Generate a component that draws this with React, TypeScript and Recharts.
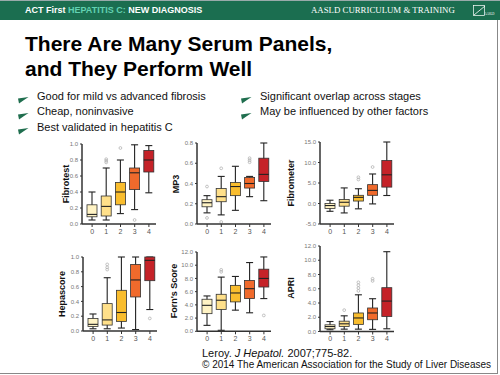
import React from 'react';
import { ComposedChart, Bar, Cell, XAxis, YAxis } from 'recharts';

const stages = ['0', '1', '2', '3', '4'];

// five-number summary per fibrosis stage: [min, q1, median, q3, max]
const fibrotestBoxes = [
  [0.05, 0.09, 0.12, 0.24, 0.4],
  [0.05, 0.1, 0.22, 0.35, 0.7],
  [0.13, 0.24, 0.4, 0.52, 0.8],
  [0.18, 0.43, 0.64, 0.7, 0.99],
  [0.39, 0.65, 0.8, 0.92, 0.98],
];
const fibrotestOutliers = [[], [0.77, 0.79, 0.81], [0.95], [0.05], []];
const fibrotestTicks = [0, 0.2, 0.4, 0.6, 0.8, 1.0];

const mp3Boxes = [
  [0.11, 0.17, 0.21, 0.24, 0.28],
  [0.09, 0.22, 0.27, 0.35, 0.47],
  [0.135, 0.28, 0.37, 0.41, 0.57],
  [0.27, 0.355, 0.4, 0.46, 0.47],
  [0.23, 0.42, 0.49, 0.65, 0.8],
];
const mp3Outliers = [[0.37, 0.06], [0.55, 0.02], [], [0.61, 0.63, 0.65], []];
const mp3Ticks = [0, 0.2, 0.4, 0.6, 0.8];

const fibrometerBoxes = [
  [-1.9, -1.2, -0.5, 0.0, 0.8],
  [-2.3, -0.65, 0.3, 1.0, 3.8],
  [-1.3, 0.6, 1.5, 2.0, 3.6],
  [-0.1, 2.0, 3.2, 4.6, 7.2],
  [1.95, 4.0, 7.0, 10.5, 15.0],
];
const fibrometerOutliers = [[], [], [5.85, 6.4], [8.9], []];
const fibrometerTicks = [-5, 0, 5, 10, 15];

const hepascoreBoxes = [
  [0.03, 0.06, 0.09, 0.17, 0.23],
  [0.03, 0.08, 0.15, 0.37, 0.72],
  [0.04, 0.13, 0.25, 0.55, 1.0],
  [0.02, 0.46, 0.69, 0.9, 1.0],
  [0.29, 0.68, 0.955, 1.0, 1.0],
];
const hepascoreOutliers = [[], [0.83, 0.86, 0.9], [], [], [0.17]];
const hepascoreTicks = [0, 0.2, 0.4, 0.6, 0.8, 1.0];

const fornsBoxes = [
  [0.9, 2.67, 3.93, 4.85, 5.35],
  [0.15, 3.3, 4.7, 5.6, 8.2],
  [3.2, 4.45, 5.8, 6.95, 8.3],
  [2.8, 4.95, 6.45, 7.7, 10.4],
  [4.95, 6.7, 8.0, 9.4, 11.25],
];
const fornsOutliers = [[], [9.0, 9.3], [], [], [2.4]];
const fornsTicks = [0, 2, 4, 6, 8, 10, 12];

const apriBoxes = [
  [0.25, 0.38, 0.7, 0.94, 1.4],
  [0.33, 0.7, 1.08, 1.45, 2.2],
  [0.33, 1.0, 1.9, 2.6, 5.15],
  [0.3, 1.65, 2.6, 3.3, 4.6],
  [0.38, 2.1, 4.27, 6.15, 11.2],
];
const apriOutliers = [[], [3.0], [5.7, 6.1, 6.5, 6.9], [7.1, 7.4], []];
const apriTicks = [0, 2, 4, 6, 8, 10, 12];

const stageColors = ['#fff3c4', '#ffe08a', '#f9bd2e', '#f06a2c', '#c52228'];

const leftBullets = ['Good for mild vs advanced fibrosis', 'Cheap, noninvasive', 'Best validated in hepatitis C'];
const rightBullets = ['Significant overlap across stages', 'May be influenced by other factors'];

const FONT = '"Liberation Sans", Arial, sans-serif';

function BoxShape(props: any) {
  const { x, y, width, height, payload, fill } = props;
  const [lo, q1, med, q3, hi] = payload.stats;
  const top = Math.min(y, y + height);
  const h = Math.abs(height);
  const span = hi - lo;
  const py = (v: number) => (span === 0 ? top : top + (h * (hi - v)) / span);
  const cx = x + width / 2;
  const cap = width * 0.35;
  return (
    <g>
      <line x1={cx} x2={cx} y1={py(hi)} y2={py(lo)} stroke="#222" strokeWidth={1.1} />
      <line x1={cx - cap} x2={cx + cap} y1={py(hi)} y2={py(hi)} stroke="#222" strokeWidth={1.1} />
      <line x1={cx - cap} x2={cx + cap} y1={py(lo)} y2={py(lo)} stroke="#222" strokeWidth={1.1} />
      <rect x={x} y={py(q3)} width={width} height={Math.max(py(q1) - py(q3), 0.5)} fill={fill} stroke="#333" strokeWidth={0.8} />
      <line x1={x} x2={x + width} y1={py(med)} y2={py(med)} stroke="#222" strokeWidth={1.1} />
      {payload.outliers.map((v: number, i: number) => (
        <circle key={i} cx={cx} cy={py(v)} r={1.4} fill="none" stroke="#aaa" strokeWidth={0.7} />
      ))}
    </g>
  );
}

function Panel({ title, boxes, outliers, ticks, axisX, topY, bottomY, labelX }: any) {
  const rows = stages.map((s, i) => ({
    stage: s,
    range: [boxes[i][0], boxes[i][4]],
    stats: boxes[i],
    outliers: outliers[i],
  }));
  const mTop = 6;
  const axisW = 30;
  const plotW = 74;
  const xH = 20;
  const plotH = bottomY - topY;
  return (
    <>
      <div style={{ position: 'absolute', left: axisX - axisW, top: topY - mTop }}>
        <ComposedChart
          width={axisW + plotW + 6}
          height={plotH + mTop + xH}
          data={rows}
          margin={{ top: mTop, right: 6, bottom: 0, left: 0 }}
          barCategoryGap={2}
        >
          <XAxis
            dataKey="stage"
            interval={0}
            height={xH}
            padding={{ left: 3, right: 0 }}
            tick={{ fontSize: 7, fill: '#555', fontFamily: FONT }}
            tickSize={3}
            tickMargin={2}
            tickLine={{ stroke: '#333' }}
            axisLine={{ stroke: '#333', strokeWidth: 1.5 }}
          />
          <YAxis
            type="number"
            width={axisW}
            domain={[ticks[0], ticks[ticks.length - 1]]}
            ticks={ticks}
            interval={0}
            tickFormatter={(v: number) => v.toFixed(1)}
            tick={{ fontSize: 6, fill: '#777', fontFamily: FONT }}
            tickSize={2}
            tickMargin={2}
            tickLine={{ stroke: '#333' }}
            axisLine={{ stroke: '#333', strokeWidth: 1.5 }}
          />
          <Bar dataKey="range" shape={<BoxShape />} isAnimationActive={false}>
            {rows.map((r, i) => (
              <Cell key={r.stage} fill={stageColors[i]} />
            ))}
          </Bar>
        </ComposedChart>
      </div>
      <div style={{ position: 'absolute', left: labelX, top: (topY + bottomY) / 2, width: 0, height: 0 }}>
        <div
          style={{
            position: 'absolute',
            left: 0,
            top: 0,
            transform: 'translate(-50%, -50%) rotate(-90deg)',
            whiteSpace: 'nowrap',
            fontFamily: FONT,
            fontWeight: 'bold',
            fontSize: 9,
            color: '#111',
          }}
        >
          {title}
        </div>
      </div>
    </>
  );
}

function Flag({ left, top }: { left: number; top: number }) {
  return (
    <svg style={{ position: 'absolute', left, top }} width={11} height={7}>
      <polygon points="0,1.5 10.5,0 6,3 1,6.5" fill="#1f6e4e" />
    </svg>
  );
}

export default function App() {
  const text = { position: 'absolute' as const, fontFamily: FONT, whiteSpace: 'nowrap' as const };
  return (
    <div style={{ position: 'absolute', left: 0, top: 0, width: 500, height: 375, background: '#fff', overflow: 'hidden' }}>
      <div style={{ position: 'absolute', left: 0, top: 0, width: 500, height: 1, background: '#9aa' }} />
      <div style={{ position: 'absolute', left: 0, top: 1, width: 500, height: 19, background: '#1b6e50' }} />
      <div style={{ ...text, left: 25, top: 4.5, fontSize: 9, fontWeight: 'bold', color: '#fff' }}>
        ACT First <span style={{ color: '#62d2b2' }}>HEPATITIS C:</span> NEW DIAGNOSIS
      </div>
      <div style={{ ...text, left: 311, top: 4.5, fontSize: 8.8, fontFamily: '"Liberation Serif", "DejaVu Serif", serif', color: '#fff' }}>
        AASLD CURRICULUM &amp; TRAINING
      </div>
      <svg style={{ position: 'absolute', left: 473, top: 5 }} width={23} height={12}>
        <rect x={0.5} y={0.5} width={11} height={10} fill="none" stroke="#fff" strokeWidth={0.7} />
        <line x1={1} y1={10} x2={12} y2={1} stroke="#fff" strokeWidth={0.8} />
        <text x={11.5} y={10} fontSize={3} fill="#fff" fontFamily="serif">AASLD</text>
      </svg>

      <div style={{ ...text, left: 25, top: 30.5, fontSize: 21, fontWeight: 'bold', color: '#000', lineHeight: '25px' }}>
        There Are Many Serum Panels,
        <br />
        and They Perform Well
      </div>

      {leftBullets.map((b, i) => (
        <React.Fragment key={b}>
          <Flag left={18} top={97 + i * 15.7} />
          <div style={{ ...text, left: 37, top: 89.5 + i * 15.7, fontSize: 11, color: '#111' }}>{b}</div>
        </React.Fragment>
      ))}
      {rightBullets.map((b, i) => (
        <React.Fragment key={b}>
          <Flag left={241} top={97 + i * 15.7} />
          <div style={{ ...text, left: 260, top: 89.5 + i * 15.7, fontSize: 11, color: '#111' }}>{b}</div>
        </React.Fragment>
      ))}

      <Panel title="Fibrotest" boxes={fibrotestBoxes} outliers={fibrotestOutliers} ticks={fibrotestTicks} axisX={82} topY={144.3} bottomY={224.3} labelX={66} />
      <Panel title="MP3" boxes={mp3Boxes} outliers={mp3Outliers} ticks={mp3Ticks} axisX={196.7} topY={143.3} bottomY={224.3} labelX={176} />
      <Panel title="Fibrometer" boxes={fibrometerBoxes} outliers={fibrometerOutliers} ticks={fibrometerTicks} axisX={320} topY={142.3} bottomY={224.3} labelX={291} />
      <Panel title="Hepascore" boxes={hepascoreBoxes} outliers={hepascoreOutliers} ticks={hepascoreTicks} axisX={83.3} topY={256.7} bottomY={330.7} labelX={62} />
      <Panel title="Forn's Score" boxes={fornsBoxes} outliers={fornsOutliers} ticks={fornsTicks} axisX={196.7} topY={251.7} bottomY={331} labelX={174} />
      <Panel title="APRI" boxes={apriBoxes} outliers={apriOutliers} ticks={apriTicks} axisX={320} topY={245.5} bottomY={331} labelX={291} />

      <div style={{ ...text, left: 202, top: 347, fontSize: 11, color: '#111' }}>
        Leroy. <i>J Hepatol.</i> 2007;775-82.
      </div>
      <div style={{ ...text, left: 202, top: 359, fontSize: 10, color: '#111' }}>
        © 2014 The American Association for the Study of Liver Diseases
      </div>
      <div style={{ position: 'absolute', left: 497, top: 20, width: 1, height: 354, background: '#888' }} />
      <div style={{ position: 'absolute', left: 0, top: 373, width: 498, height: 1, background: '#888' }} />
    </div>
  );
}
